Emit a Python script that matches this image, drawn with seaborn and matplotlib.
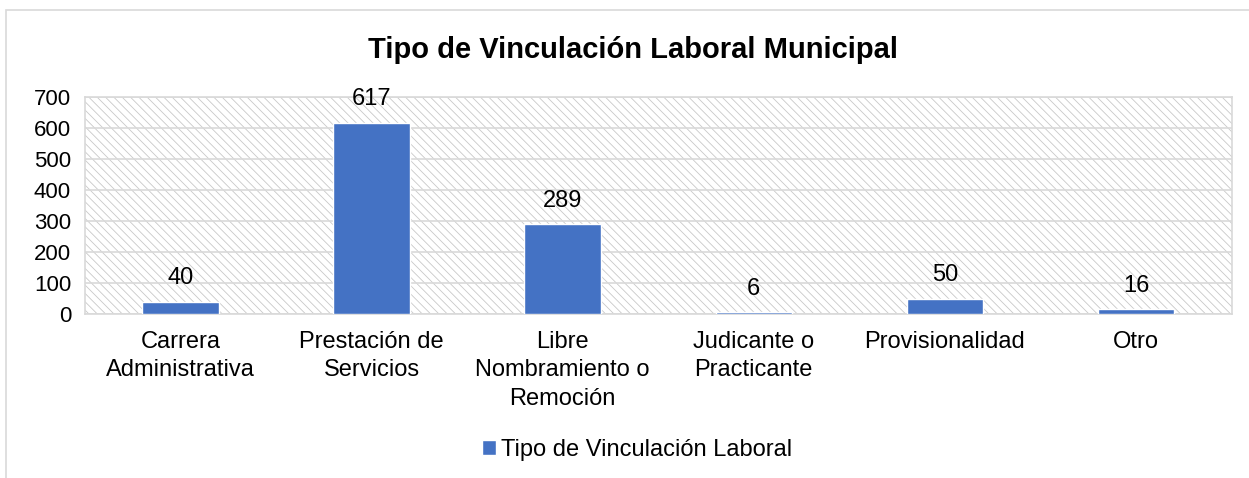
import matplotlib
matplotlib.use("Agg")
import matplotlib.pyplot as plt
import seaborn as sns
from matplotlib.patches import Rectangle

# Data
categorias = ["Carrera\nAdministrativa", "Prestación de\nServicios",
              "Libre\nNombramiento o\nRemoción", "Judicante o\nPracticante",
              "Provisionalidad", "Otro"]
valores = [40, 617, 289, 6, 50, 16]
serie = "Tipo de Vinculación Laboral"
titulo = "Tipo de Vinculación Laboral Municipal"

sns.set_style("white")
plt.rcParams["font.family"] = ["Liberation Sans", "DejaVu Sans"]
plt.rcParams["text.color"] = "black"
plt.rcParams["hatch.linewidth"] = 0.6

fig = plt.figure(figsize=(12.49, 4.78), dpi=100)
ax = fig.add_axes([0.068, 0.343, 0.918, 0.454])

# hatched plot area background
ax.set_facecolor("white")
bg = Rectangle((0, 0), 1, 1, transform=ax.transAxes, facecolor="white",
               edgecolor="#c8c8c8", hatch="\\\\\\\\", linewidth=0, zorder=0)
ax.add_patch(bg)

sns.barplot(x=categorias, y=valores, color="#4472C4", width=0.4,
            saturation=1, label=serie, ax=ax, zorder=3)

ax.set_ylim(0, 700)
ax.set_yticks(range(0, 701, 100))
ax.yaxis.grid(True, color="#d9d9d9", linewidth=1.2, zorder=1)
ax.set_axisbelow(False)
for s in ax.spines.values():
    s.set_color("#d9d9d9")
    s.set_linewidth(1.2)
ax.tick_params(axis="both", length=0, colors="black")
ax.tick_params(axis="x", pad=12, labelsize=17)
ax.tick_params(axis="y", pad=10, labelsize=16)
for t in ax.get_xticklabels():
    t.set_linespacing(1.38)
ax.set_xlabel("")
ax.set_ylabel("")

for c in ax.containers:
    ax.bar_label(c, fontsize=17, padding=9, color="black")

fig.suptitle(titulo, fontsize=21, fontweight="bold", x=0.507, y=0.925,
             color="black")

if ax.get_legend():
    ax.get_legend().remove()
h, l = ax.get_legend_handles_labels()
fig.legend(h, l, loc="center", bbox_to_anchor=(0.51, 0.058), frameon=False,
           fontsize=17, handlelength=0.6, handleheight=0.6, handletextpad=0.2)

# outer chart frame (cropped on right and bottom)
frame = Rectangle((6 / 1249, -0.1), 2, (478 - 10.5) / 478 + 0.1,
                  transform=fig.transFigure, fill=False,
                  edgecolor="#d9d9d9", linewidth=1.2)
fig.patches.append(frame)

fig.savefig("out.png", dpi=100)
